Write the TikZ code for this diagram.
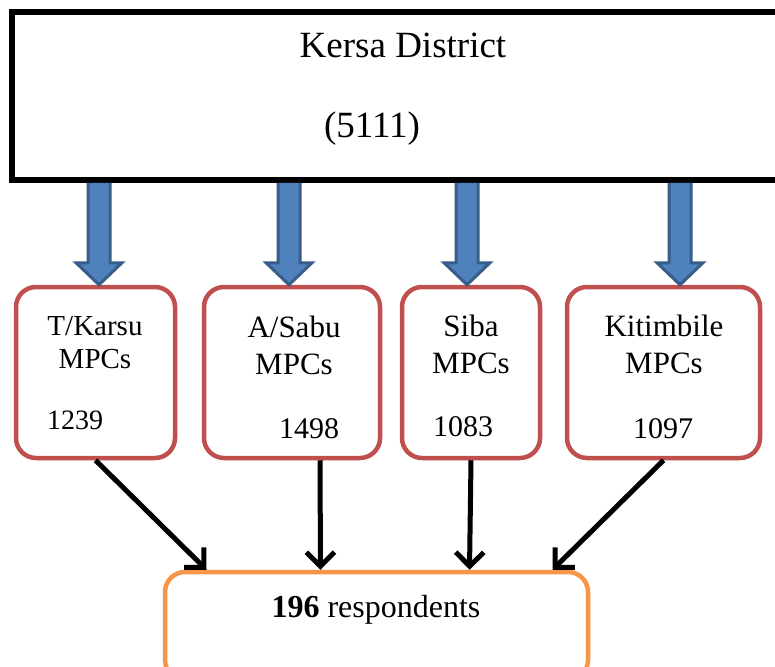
\documentclass[tikz,border=0pt]{standalone}
\usepackage{fontspec}
\setmainfont{Liberation Serif}
\usetikzlibrary{arrows.meta,calc,positioning}

\definecolor{mpcred}{HTML}{C0504D}
\definecolor{resporange}{HTML}{F79646}
\definecolor{arrowblue}{HTML}{4F81BD}
\definecolor{arrowedge}{HTML}{385D8A}

\begin{document}
\begin{tikzpicture}[x=1pt,y=-1pt,
    mpc/.style={draw=mpcred, line width=4.5pt, rounded corners=20pt, minimum height=171pt},
    mpcname/.style={anchor=base, align=center, font=\fontsize{31}{37}\selectfont},
    mpcnum/.style={anchor=base, font=\fontsize{30}{36}\selectfont},
    bluearrow/.style={fill=arrowblue, draw=arrowedge, line width=3pt, line join=miter},
    flow/.style={line width=5pt, -{Straight Barb[length=14pt,width=28pt]}}]
  \useasboundingbox (0,0) rectangle (775,666);

    % district box
    \node[draw, line width=5.5pt, minimum width=778pt, minimum height=168pt] (dist) at (401,96) {};
    \node[anchor=base, font=\fontsize{37}{44}\selectfont] (kersa) at (403,58) {Kersa District};
    \node[anchor=base, font=\fontsize{37}{44}\selectfont] (total) at (372,137) {(5111)};

    % MPC boxes
    \node[mpc, minimum width=159pt] (tk) at (95.5,372.5) {};
    \node[mpc, minimum width=176pt] (as) at (292,372.5) {};
    \node[mpc, minimum width=138pt] (sb) at (471,372.5) {};
    \node[mpc, minimum width=193pt] (kt) at (663.5,372.5) {};

    \node[mpcname, font=\fontsize{29}{33}\selectfont] (tkname) at (95,368) {T/Karsu\\MPCs};
    \node[mpcname] (asname) at (294,374) {A/Sabu\\MPCs};
    \node[mpcname] (sbname) at (471,373) {Siba\\MPCs};
    \node[mpcname] (ktname) at (664,373) {Kitimbile\\MPCs};

    \node[mpcnum, font=\fontsize{28}{34}\selectfont] (tknum) at (75,429) {1239};
    \node[mpcnum] (asnum) at (309,438) {1498};
    \node[mpcnum] (sbnum) at (463,436) {1083};
    \node[mpcnum] (ktnum) at (663,438) {1097};

    % blue arrows
    \foreach \x/\n in {99/tk,289/as,467/sb,680/kt} {
      \coordinate (top) at (\x,0 |- dist.south);
      \coordinate (tip) at (\x,0 |- \n.north);
      \filldraw[bluearrow] ($(top)+(-11,0)$) -- ($(tip)+(-11,-22)$) -- ($(tip)+(-23,-22)$) -- (tip)
        -- ($(tip)+(23,-22)$) -- ($(tip)+(11,-22)$) -- ($(top)+(11,0)$);
    }

    % respondents
    \node[draw=resporange, line width=4.5pt, rounded corners=20pt, minimum width=423pt, minimum height=108pt] (resp) at (376.5,626) {};
    \node[anchor=base, font=\fontsize{32}{38}\selectfont] (resplbl) at (376,617) {\textbf{196} respondents};

    \draw[flow] (tk.south) -- ([xshift=-170pt]resp.north);
    \draw[flow] ([xshift=28pt]as.south) -- ([xshift=-56pt]resp.north);
    \draw[flow] (sb.south) -- ([xshift=93pt]resp.north);
    \draw[flow] (kt.south) -- ([xshift=176pt]resp.north);

\end{tikzpicture}
\end{document}
